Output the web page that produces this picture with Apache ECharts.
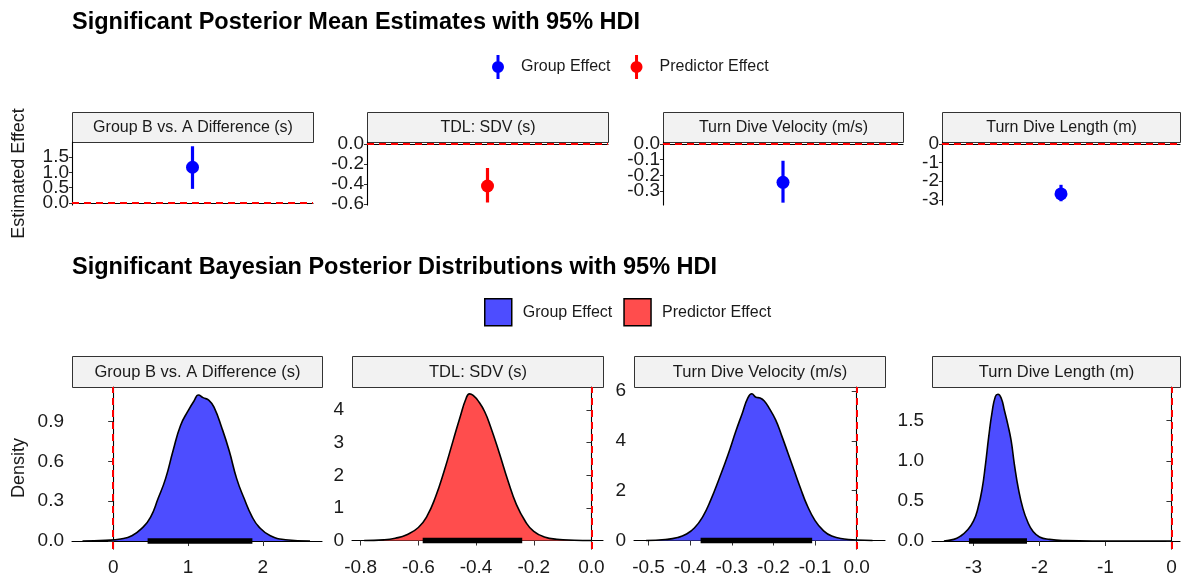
<!DOCTYPE html>
<html>
<head>
<meta charset="utf-8">
<script src="https://cdn.jsdelivr.net/npm/echarts@6/dist/echarts.min.js"></script>
<style>
  html, body { margin: 0; padding: 0; background: #fff; }
  #chart { width: 1182px; height: 577px; }
</style>
</head>
<body>
<div id="chart"></div>
<script>
// facet panels
const panelNames = ['Group B vs. A Difference (s)', 'TDL: SDV (s)', 'Turn Dive Velocity (m/s)', 'Turn Dive Length (m)'];
const effectTypes = ['Group Effect', 'Predictor Effect', 'Group Effect', 'Group Effect'];

// posterior means and 95% HDI
const postMeans = [1.17, -0.42, -0.245, -2.68];
const hdiLow = [0.46, -0.585, -0.375, -3.07];
const hdiHigh = [1.86, -0.24, -0.107, -2.19];

// posterior densities
const groupDiffX = [-0.41, -0.1, 0.1, 0.25, 0.4, 0.5, 0.6, 0.7, 0.8, 0.9, 1.0, 1.08, 1.14, 1.2, 1.28, 1.35, 1.45, 1.55, 1.65, 1.75, 1.85, 1.95, 2.1, 2.3, 2.63];
const groupDiffY = [0, 0.005, 0.015, 0.04, 0.105, 0.18, 0.32, 0.47, 0.68, 0.87, 0.98, 1.055, 1.10, 1.08, 1.06, 1.005, 0.855, 0.68, 0.47, 0.32, 0.19, 0.105, 0.04, 0.01, 0];
const tdlSdvX = [-0.788, -0.72, -0.68, -0.64, -0.6, -0.57, -0.54, -0.51, -0.48, -0.455, -0.435, -0.423, -0.41, -0.39, -0.37, -0.35, -0.32, -0.29, -0.26, -0.23, -0.2, -0.16, -0.12, -0.06, 0];
const tdlSdvY = [0, 0.02, 0.07, 0.18, 0.4, 0.75, 1.35, 2.15, 3.05, 3.8, 4.35, 4.5, 4.45, 4.25, 3.95, 3.5, 2.7, 1.85, 1.1, 0.6, 0.28, 0.1, 0.04, 0.01, 0];
const velocityX = [-0.506, -0.46, -0.43, -0.41, -0.39, -0.37, -0.35, -0.33, -0.31, -0.29, -0.275, -0.262, -0.252, -0.242, -0.232, -0.222, -0.21, -0.195, -0.18, -0.165, -0.15, -0.135, -0.12, -0.1, -0.08, -0.06, -0.03, 0, 0.038];
const velocityY = [0, 0.04, 0.12, 0.25, 0.5, 0.95, 1.65, 2.5, 3.4, 4.4, 5.1, 5.7, 5.89, 5.75, 5.72, 5.6, 5.3, 4.85, 4.2, 3.5, 2.8, 2.1, 1.45, 0.8, 0.4, 0.18, 0.06, 0.02, 0];
const lengthX = [-3.45, -3.3, -3.2, -3.1, -3.0, -2.93, -2.87, -2.82, -2.77, -2.72, -2.67, -2.63, -2.58, -2.53, -2.48, -2.43, -2.38, -2.32, -2.25, -2.18, -2.1, -2.0, -1.85, -1.6, -1.2, 0];
const lengthY = [0, 0.02, 0.06, 0.13, 0.25, 0.42, 0.65, 0.95, 1.3, 1.6, 1.8, 1.83, 1.78, 1.62, 1.45, 1.25, 0.95, 0.65, 0.4, 0.24, 0.12, 0.05, 0.02, 0.005, 0, 0];

const densX = [groupDiffX, tdlSdvX, velocityX, lengthX];
const densY = [groupDiffY, tdlSdvY, velocityY, lengthY];

// tick labels
const topTicks = [[0, 0.5, 1, 1.5], [0, -0.2, -0.4, -0.6], [0, -0.1, -0.2, -0.3], [0, -1, -2, -3]];
const botXTicks = [[0, 1, 2], [-0.8, -0.6, -0.4, -0.2, 0], [-0.5, -0.4, -0.3, -0.2, -0.1, 0], [-3, -2, -1, 0]];
const botYTicks = [[0, 0.3, 0.6, 0.9], [0, 1, 2, 3, 4], [0, 2, 4, 6], [0, 0.5, 1, 1.5]];

// layout: plot boxes and axis ranges
const topBoxes = [[72, 241], [367, 241], [663, 240], [942, 238]];
const botBoxes = [[72, 250], [352, 251], [634, 251], [932, 248]];
const topY = 142, topH = 63, botY = 387, botH = 162, stripH = 30;
const topRange = [[-0.07, 2.0], [-0.61, 0.02], [-0.39, 0.013], [-3.27, 0.1]];
const botXRange = [[-0.55, 2.79], [-0.83, 0.04], [-0.535, 0.068], [-3.63, 0.13]];
const botYRange = [[-0.06, 1.16], [-0.26, 4.71], [-0.34, 6.16], [-0.10, 1.92]];
const topDec = [1, 1, 1, 0], botXDec = [0, 1, 1, 0], botYDec = [1, 0, 0, 1];

const FONT = '"Liberation Sans", Arial, sans-serif';
const pointColor = { 'Group Effect': '#0000FF', 'Predictor Effect': '#FF0000' };
const fillColor = { 'Group Effect': '#4D4DFF', 'Predictor Effect': '#FF4D4D' };
const textCol = '#1a1a1a';
const rangeIcon = 'path://M4.5,0 L7.5,0 L7.5,24 L4.5,24 Z M0,12 A6,6 0 1,1 12,12 A6,6 0 1,1 0,12 Z';
const zeroLine = { color: '#FF0000', type: [7, 5], width: 2 };

function fmt(v, d) {
  if (Math.abs(v) < 1e-9) return (0).toFixed(d);
  return v.toFixed(d);
}

const grid = [], xAxis = [], yAxis = [], series = [], graphic = [];

const axisLineStyle = { show: true, lineStyle: { color: '#000', width: 1.1 } };

function addStrip(left, width, top, h, text, size) {
  graphic.push({
    type: 'group', left: left, top: top - h, silent: true,
    children: [
      { type: 'rect', shape: { x: 0, y: 0, width: width, height: h }, style: { fill: '#F2F2F2', stroke: '#333', lineWidth: 1 } },
      { type: 'text', x: width / 2, y: h / 2, style: { text: text, fill: textCol, font: size + 'px ' + FONT, align: 'center', verticalAlign: 'middle' } }
    ]
  });
}

// point + interval row
panelNames.forEach(function (name, i) {
  const [left, width] = topBoxes[i];
  grid.push({ left: left, top: topY, width: width, height: topH });
  addStrip(left, width, topY, stripH, name, 16);
  xAxis.push({
    type: 'category', gridIndex: i, data: [''],
    axisLine: axisLineStyle, axisTick: { show: false }, axisLabel: { show: false }, splitLine: { show: false }
  });
  yAxis.push({
    type: 'value', gridIndex: i, min: topRange[i][0], max: topRange[i][1],
    name: i === 0 ? 'Estimated Effect' : '', nameLocation: 'middle', nameGap: 44,
    nameTextStyle: { fontSize: 18, color: textCol, fontFamily: FONT },
    axisLine: axisLineStyle,
    axisTick: { show: true, length: 3, customValues: topTicks[i], lineStyle: { color: '#333' } },
    // labels are tightly packed here, so they are drawn by the tick-label series below
    axisLabel: { show: false },
    splitLine: { show: false }
  });
  const col = pointColor[effectTypes[i]];
  series.push({
    type: 'scatter', name: effectTypes[i], xAxisIndex: i, yAxisIndex: i,
    data: [[0, postMeans[i]]], symbolSize: 13, itemStyle: { color: col, opacity: 1 }, z: 4,
    markLine: {
      silent: true, symbol: ['none', 'none'], label: { show: false },
      lineStyle: zeroLine, data: [{ yAxis: 0 }]
    }
  });
  series.push({
    type: 'custom', name: effectTypes[i] + ' HDI', xAxisIndex: i, yAxisIndex: i,
    data: [[0, hdiLow[i], hdiHigh[i]]], encode: { x: 0, y: [1, 2] }, z: 3,
    renderItem: function (params, api) {
      const a = api.coord([api.value(0), api.value(1)]);
      const b = api.coord([api.value(0), api.value(2)]);
      return { type: 'line', shape: { x1: a[0], y1: a[1], x2: b[0], y2: b[1] }, style: { stroke: col, lineWidth: 3.2 } };
    }
  });
  // y tick labels placed through the axis scale
  series.push({
    type: 'custom', name: 'ticks', xAxisIndex: i, yAxisIndex: i, silent: true, clip: false,
    data: topTicks[i].map(function (v) { return [0, v]; }), encode: { x: 0, y: 1 },
    renderItem: function (params, api) {
      const p = api.coord([0, api.value(1)]);
      return {
        type: 'text', x: params.coordSys.x - 3, y: p[1],
        style: { text: fmt(api.value(1), topDec[i]), fill: textCol, font: '19px ' + FONT, align: 'right', verticalAlign: 'middle' }
      };
    }
  });
});

// density row
panelNames.forEach(function (name, i) {
  const g = i + 4;
  const [left, width] = botBoxes[i];
  grid.push({ left: left, top: botY, width: width, height: botH });
  addStrip(left, width, botY, stripH + 1, name, 16.5);
  xAxis.push({
    type: 'value', gridIndex: g, min: botXRange[i][0], max: botXRange[i][1],
    axisLine: axisLineStyle,
    axisTick: { show: true, length: 5, customValues: botXTicks[i], lineStyle: { color: '#333' } },
    axisLabel: { customValues: botXTicks[i], margin: 9, fontSize: 19, color: textCol, fontFamily: FONT,
      hideOverlap: false, showMinLabel: true, showMaxLabel: true,
      formatter: function (v) { return fmt(v, botXDec[i]); } },
    splitLine: { show: false }
  });
  yAxis.push({
    type: 'value', gridIndex: g, min: botYRange[i][0], max: botYRange[i][1],
    name: i === 0 ? 'Density' : '', nameLocation: 'middle', nameGap: 44,
    nameTextStyle: { fontSize: 18, color: textCol, fontFamily: FONT },
    axisLine: axisLineStyle,
    axisTick: { show: true, length: 5, customValues: botYTicks[i], lineStyle: { color: '#333' } },
    axisLabel: { customValues: botYTicks[i], margin: 8, fontSize: 19, color: textCol, fontFamily: FONT,
      hideOverlap: false, showMinLabel: true, showMaxLabel: true,
      formatter: function (v) { return fmt(v, botYDec[i]); } },
    splitLine: { show: false }
  });
  series.push({
    type: 'line', name: effectTypes[i], xAxisIndex: g, yAxisIndex: g,
    data: densX[i].map(function (x, k) { return [x, densY[i][k]]; }),
    smooth: 0.5, showSymbol: false, symbol: 'none',
    lineStyle: { color: '#000', width: 1.6 },
    areaStyle: { color: fillColor[effectTypes[i]], opacity: 1 },
    z: 2
  });
  series.push({
    type: 'line', name: 'HDI', xAxisIndex: g, yAxisIndex: g,
    data: [[hdiLow[i], 0], [hdiHigh[i], 0]], symbol: 'none',
    lineStyle: { color: '#000', width: 5.5, cap: 'butt' }, z: 3,
    markLine: {
      silent: true, symbol: ['none', 'none'], label: { show: false },
      lineStyle: zeroLine, data: [{ xAxis: 0 }]
    }
  });
});

const chart = echarts.init(document.getElementById('chart'));
chart.setOption({
  animation: false,
  backgroundColor: '#fff',
  title: [
    { text: 'Significant Posterior Mean Estimates with 95% HDI', left: 72, top: 11, padding: 0,
      textStyle: { fontSize: 23.5, fontWeight: 'bold', color: '#000', fontFamily: FONT } },
    { text: 'Significant Bayesian Posterior Distributions with 95% HDI', left: 72, top: 256, padding: 0,
      textStyle: { fontSize: 23.5, fontWeight: 'bold', color: '#000', fontFamily: FONT } }
  ],
  legend: [
    {
      left: 492, top: 55, padding: 0, itemWidth: 12, itemHeight: 24, itemGap: 20, selectedMode: false,
      textStyle: { fontSize: 16, color: textCol, fontFamily: FONT, padding: [0, 0, 0, 12] },
      data: [
        { name: 'Group Effect', icon: rangeIcon, itemStyle: { color: '#0000FF', borderWidth: 0, opacity: 1 } },
        { name: 'Predictor Effect', icon: rangeIcon, itemStyle: { color: '#FF0000', borderWidth: 0, opacity: 1 } }
      ]
    },
    {
      left: 484, top: 298, padding: 0, itemWidth: 27, itemHeight: 27, itemGap: 11, selectedMode: false,
      textStyle: { fontSize: 16, color: textCol, fontFamily: FONT, padding: [0, 0, 0, 6] },
      data: [
        { name: 'Group Effect', icon: 'rect', itemStyle: { color: '#4D4DFF', borderColor: '#000', borderWidth: 1.5, opacity: 1 } },
        { name: 'Predictor Effect', icon: 'rect', itemStyle: { color: '#FF4D4D', borderColor: '#000', borderWidth: 1.5, opacity: 1 } }
      ]
    }
  ],
  grid: grid,
  xAxis: xAxis,
  yAxis: yAxis,
  series: series,
  graphic: graphic
});
</script>
</body>
</html>
